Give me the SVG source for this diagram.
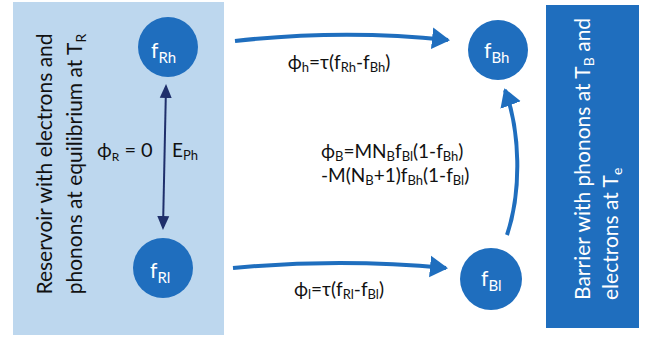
<svg xmlns="http://www.w3.org/2000/svg" width="650" height="344" viewBox="0 0 650 344">
<style>
text{font-family:Lato,"Liberation Sans",sans-serif;}
.w{fill:#ffffff;}
.k{fill:#111111;}
.node{fill:#1F6EBE;}
.flow{fill:none;stroke:#1F6EBE;stroke-width:4;}
</style>
<defs>
<marker id="ab" markerWidth="6" markerHeight="6" refX="4" refY="3" orient="auto" markerUnits="strokeWidth"><path d="M0,0.3 L4.5,3 L0,5.7 Z" fill="#1F6EBE"/></marker>
<marker id="an" markerWidth="8" markerHeight="8" refX="6" refY="4" orient="auto-start-reverse" markerUnits="strokeWidth"><path d="M0,1 L7,4 L0,7 Z" fill="#1F2F6B"/></marker>
</defs>
<g id="reservoir">
<rect x="13" y="2" width="211" height="333" fill="#BDD7EE"/>
<text class="k" font-size="21" transform="translate(52,164) rotate(-90)" text-anchor="middle">Reservoir with electrons and</text>
<text class="k" font-size="21" transform="translate(82,164) rotate(-90)" text-anchor="middle">phonons at equilibrium at T<tspan font-size="14" dy="4">R</tspan></text>
</g>
<g id="barrier">
<rect x="546" y="5" width="93" height="323" class="node"/>
<text class="w" font-size="21" transform="translate(590,300) rotate(-90)">Barrier with phonons at T<tspan font-size="14" dy="4">B</tspan><tspan dy="-4"> and</tspan></text>
<text class="w" font-size="21" transform="translate(618,300) rotate(-90)">electrons at T<tspan font-size="14" dy="4">e</tspan></text>
</g>
<g id="fRh">
<circle cx="168" cy="47" r="30" class="node"/>
<text class="w" font-size="21" x="151" y="58">f<tspan font-size="15" dy="5">Rh</tspan></text>
</g>
<g id="fRl">
<circle cx="163" cy="268" r="30" class="node"/>
<text class="w" font-size="21" x="150" y="278">f<tspan font-size="15" dy="5">Rl</tspan></text>
</g>
<g id="fBh">
<circle cx="498" cy="50" r="30" class="node"/>
<text class="w" font-size="21" x="484" y="58">f<tspan font-size="15" dy="5">Bh</tspan></text>
</g>
<g id="fBl">
<circle cx="491" cy="279" r="31" class="node"/>
<text class="w" font-size="21" x="481" y="286">f<tspan font-size="15" dy="5">Bl</tspan></text>
</g>
<g id="connectors">
<path class="flow" d="M235,41 Q343,29 448,40" marker-end="url(#ab)"/>
<path class="flow" d="M233,268 Q340,258 446,268" marker-end="url(#ab)"/>
<path class="flow" d="M507,235 C522,190 520,130 505,90" marker-end="url(#ab)"/>
<path d="M166,86 L163,228" stroke="#1F2F6B" stroke-width="2" fill="none" marker-start="url(#an)" marker-end="url(#an)"/>
</g>
<g id="labels">
<text class="k" font-size="20" x="97" y="157">ϕ<tspan font-size="12" dy="4">R</tspan><tspan dy="-4"> = 0</tspan></text>
<text class="k" font-size="19" x="172" y="157">E<tspan font-size="13" dy="3">Ph</tspan></text>
<text class="k" font-size="19" x="339" y="69" text-anchor="middle">ϕ<tspan font-size="13" dy="3">h</tspan><tspan dy="-3">=τ(f</tspan><tspan font-size="13" dy="3">Rh</tspan><tspan dy="-3">-f</tspan><tspan font-size="13" dy="3">Bh</tspan><tspan dy="-3">)</tspan></text>
<text class="k" font-size="19" x="339" y="296" text-anchor="middle">ϕ<tspan font-size="13" dy="3">l</tspan><tspan dy="-3">=τ(f</tspan><tspan font-size="13" dy="3">Rl</tspan><tspan dy="-3">-f</tspan><tspan font-size="13" dy="3">Bl</tspan><tspan dy="-3">)</tspan></text>
<text class="k" font-size="19" x="321" y="158">ϕ<tspan font-size="13" dy="3">B</tspan><tspan dy="-3">=MN</tspan><tspan font-size="13" dy="3">B</tspan><tspan dy="-3">f</tspan><tspan font-size="13" dy="3">Bl</tspan><tspan dy="-3">(1-f</tspan><tspan font-size="13" dy="3">Bh</tspan><tspan dy="-3">)</tspan></text>
<text class="k" font-size="19" x="321" y="182">-M(N<tspan font-size="13" dy="3">B</tspan><tspan dy="-3">+1)f</tspan><tspan font-size="13" dy="3">Bh</tspan><tspan dy="-3">(1-f</tspan><tspan font-size="13" dy="3">Bl</tspan><tspan dy="-3">)</tspan></text>
</g>
</svg>
